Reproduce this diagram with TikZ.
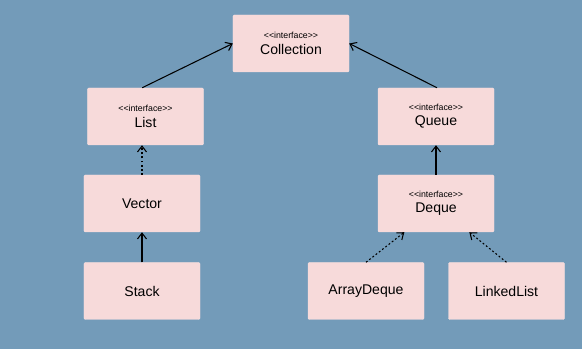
\documentclass[tikz,border=0pt]{standalone}
\usepackage{fontspec}
\setmainfont{Liberation Sans}
\usetikzlibrary{arrows.meta}
\definecolor{bgblue}{RGB}{115,155,185}
\definecolor{boxpink}{RGB}{247,218,218}
\tikzset{
  cls/.style={fill=boxpink, draw=boxpink!80!white, rounded corners=1pt,
    minimum width=3.48cm, minimum height=1.71cm, font=\fontsize{12}{14}\selectfont,
    align=center, inner sep=0pt},
  ext/.style={line width=0.9pt, -{Straight Barb[angle=75:4.5pt 2]}},
  impl/.style={ext, dash pattern=on 1.6pt off 1.9pt}
}
\newcommand{\iface}[1]{{\fontsize{7.5}{9}\selectfont {<}{<}interface{>}{>}}\\[-1pt]#1}
\begin{document}
\begin{tikzpicture}[x=0.03cm, y=-0.03cm]
    \fill[bgblue] (0,0) rectangle (582,349);
    \useasboundingbox (0,0) rectangle (582,349);
    \node[cls] (col) at (291,43.5) {\iface{Collection}};
    \node[cls] (list) at (145.5,116.5) {\iface{List}};
    \node[cls] (queue) at (436,116.5) {\iface{Queue}};
    \node[cls] (vec) at (142,203.5) {Vector};
    \node[cls] (deq) at (436,203.5) {\iface{Deque}};
    \node[cls] (stk) at (142,291) {Stack};
    \node[cls] (adq) at (366,291) {ArrayDeque};
    \node[cls] (llst) at (506.5,291) {LinkedList};
    \draw[ext] ([xshift=-0.1cm]list.north) to (col.west);
    \draw[ext] ([xshift=0.03cm]queue.north) to (col.east);
    \draw[impl] (vec.north) to (vec.north |- list.south);
    \draw[ext] (stk.north) to (vec.south);
    \draw[ext] (deq.north) to (queue.south);
    \draw[impl] (adq.north) to ([xshift=-0.95cm]deq.south);
    \draw[impl] (llst.north) to ([xshift=1cm]deq.south);
\end{tikzpicture}
\end{document}
